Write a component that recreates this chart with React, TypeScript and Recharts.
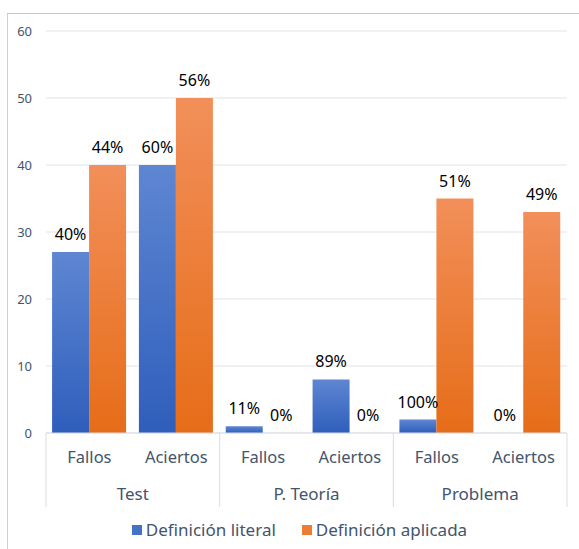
import React from "react";
import { BarChart, Bar, XAxis, YAxis, CartesianGrid, Legend, LabelList } from "recharts";

const categories = ["Fallos", "Aciertos", "Fallos", "Aciertos", "Fallos", "Aciertos"];
const groups = ["Test", "P. Teoría", "Problema"];
const literal = [27, 40, 1, 8, 2, 0];
const aplicada = [40, 50, 0, 0, 35, 33];
const literalLabels = ["40%", "60%", "11%", "89%", "100%", "0%"];
const aplicadaLabels = ["44%", "56%", "0%", "0%", "51%", "49%"];
const yTicks = [0, 10, 20, 30, 40, 50, 60];
const seriesNames = ["Definición literal", "Definición aplicada"];

const data = categories.map((c, i) => ({
  cat: c,
  literal: literal[i],
  aplicada: aplicada[i],
  litLabel: literalLabels[i],
  apLabel: aplicadaLabels[i],
}));

const W = 579;
const H = 549;
const MARGIN = { top: 31, right: 12, left: 6, bottom: 9 };
const Y_W = 40;
const X_H = 74;
const PLOT_W = W - MARGIN.left - MARGIN.right - Y_W;
const FONT = "'Noto Sans', 'Open Sans', sans-serif";
const AXIS_TEXT = "#44546A";
const LINE = "#D9DDE3";
const BLUE = "#4472C4";
const ORANGE = "#ED7D31";

const CatTick = (props: any) => {
  const { x, y, payload } = props;
  const i = payload?.index ?? props.index ?? 0;
  const bw = PLOT_W / categories.length;
  return (
    <g>
      <text x={x} y={y + 11} textAnchor="middle" fill={AXIS_TEXT} fontSize={16.5} fontFamily={FONT}>
        {payload.value}
      </text>
      {i % 2 === 0 && (
        <text x={x + bw / 2} y={y + 48} textAnchor="middle" fill={AXIS_TEXT} fontSize={17} fontFamily={FONT}>
          {groups[i / 2]}
        </text>
      )}
      {i % 2 === 0 && <line x1={x - bw / 2} x2={x - bw / 2} y1={y - 19} y2={y + 55} stroke={LINE} strokeWidth={1} />}
      {i === categories.length - 1 && (
        <line x1={x + bw / 2} x2={x + bw / 2} y1={y - 19} y2={y + 55} stroke={LINE} strokeWidth={1} />
      )}
    </g>
  );
};

const renderLabel = (props: any) => {
  const { x, y, width, value } = props;
  if (x == null || y == null) return null;
  return (
    <text
      x={Number(x) + Number(width) / 2}
      y={Math.min(Number(y), Number(y) + Number(props.height || 0)) - 12}
      textAnchor="middle"
      fill="#000"
      fontSize={16}
      fontFamily={FONT}
    >
      {value}
    </text>
  );
};

const tinyForZero = (v: any) => (Number(v) === 0 ? 0.01 : 0);

const LegendContent = () => (
  <div
    style={{
      display: "flex",
      justifyContent: "center",
      alignItems: "center",
      paddingTop: 13,
      paddingLeft: 20,
      height: 20,
      fontFamily: FONT,
      fontSize: 17,
      color: AXIS_TEXT,
      lineHeight: "20px",
    }}
  >
    {seriesNames.map((n, i) => (
      <div key={n} style={{ display: "flex", alignItems: "center", marginRight: i === 0 ? 26 : 0 }}>
        <span
          style={{
            display: "inline-block",
            width: 10,
            height: 10,
            background: i === 0 ? BLUE : ORANGE,
            marginRight: 4,
          }}
        />
        <span>{n}</span>
      </div>
    ))}
  </div>
);

export default function App() {
  return (
    <div style={{ position: "absolute", left: 0, top: 0, width: W, height: H, overflow: "hidden", background: "#fff" }}>
      <div
        style={{
          position: "absolute",
          left: 7,
          top: 13,
          width: 700,
          height: 700,
          borderLeft: "1.5px solid #CFCFCF",
          borderTop: "1.5px solid #C6C6C6",
        }}
      />
      <div style={{ position: "absolute", left: 0, top: 0 }}>
        <BarChart
          width={W}
          height={H}
          data={data}
          margin={MARGIN}
          barCategoryGap="7%"
          barGap={0}
          style={{ fontFamily: FONT }}
        >
          <defs>
            <linearGradient id="gBlue" x1="0" y1="0" x2="0" y2="1">
              <stop offset="0%" stopColor="#5E86D2" />
              <stop offset="100%" stopColor="#2F5EBB" />
            </linearGradient>
            <linearGradient id="gOrange" x1="0" y1="0" x2="0" y2="1">
              <stop offset="0%" stopColor="#F28F5A" />
              <stop offset="100%" stopColor="#E66D18" />
            </linearGradient>
          </defs>
          <CartesianGrid vertical={false} stroke="#E0E3EA" strokeWidth={1} />
          <XAxis
            dataKey="cat"
            height={X_H}
            interval={0}
            tickLine={false}
            tickSize={0}
            tickMargin={19}
            axisLine={{ stroke: LINE, strokeWidth: 1 }}
            tick={(p: any) => <CatTick {...p} />}
          />
          <YAxis
            width={Y_W}
            domain={[0, 60]}
            ticks={yTicks}
            interval={0}
            axisLine={false}
            tickLine={false}
            tickSize={0}
            tickMargin={14}
            tick={{ fill: AXIS_TEXT, fontSize: 13, fontFamily: FONT }}
          />
          <Legend verticalAlign="bottom" content={() => <LegendContent />} wrapperStyle={{ left: 0, width: W }} />
          <Bar
            dataKey="literal"
            name={seriesNames[0]}
            fill="url(#gBlue)"
            minPointSize={tinyForZero as any}
            isAnimationActive={false}
          >
            <LabelList dataKey="litLabel" content={renderLabel} />
          </Bar>
          <Bar
            dataKey="aplicada"
            name={seriesNames[1]}
            fill="url(#gOrange)"
            minPointSize={tinyForZero as any}
            isAnimationActive={false}
          >
            <LabelList dataKey="apLabel" content={renderLabel} />
          </Bar>
        </BarChart>
      </div>
    </div>
  );
}
